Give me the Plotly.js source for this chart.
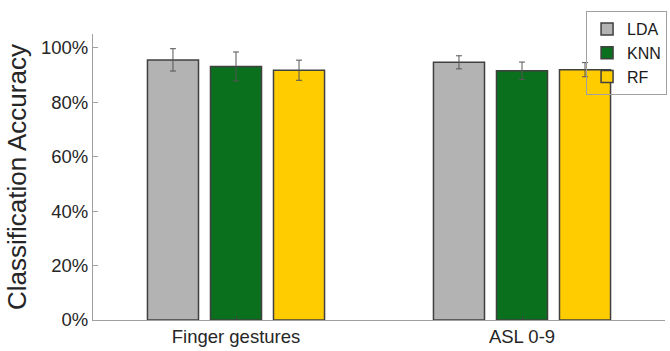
<!DOCTYPE html>
<html>
<head>
<meta charset="utf-8">
<script src="https://cdn.plot.ly/plotly-3.0.1.min.js"></script>
<style>html,body{margin:0;padding:0;background:#fff;}#chart{width:670px;height:351px;}</style>
</head>
<body>
<div id="chart"></div>
<script>
const categories = ["Finger gestures", "ASL 0-9"];
const seriesNames = ["LDA", "KNN", "RF"];
const ldaValues = [95.5, 94.6];
const knnValues = [93.1, 91.5];
const rfValues = [91.7, 91.9];
const ldaErrors = [4.1, 2.4];
const knnErrors = [5.3, 3.2];
const rfErrors = [3.7, 2.6];
const yTickValues = [0, 20, 40, 60, 80, 100];
const yTickLabels = ["0%", "20%", "40%", "60%", "80%", "100%"];

const colors = ["#b3b3b3", "#0b701d", "#ffcc00"];
const values = [ldaValues, knnValues, rfValues];
const errors = [ldaErrors, knnErrors, rfErrors];

const traces = seriesNames.map((name, i) => ({
  type: "bar",
  name: name,
  x: [1, 2],
  y: values[i],
  marker: {color: colors[i], line: {color: "#404040", width: 1.5}},
  error_y: {type: "data", array: errors[i], visible: true, color: "#555555", thickness: 1, width: 3}
}));

const layout = {
  width: 670, height: 351,
  margin: {l: 93, r: 5, t: 34, b: 31, autoexpand: false},
  paper_bgcolor: "#ffffff", plot_bgcolor: "#ffffff",
  barmode: "group", bargap: 0.339, bargroupgap: 0.19,
  font: {family: "Liberation Sans, Arial, sans-serif", color: "#262626"},
  xaxis: {
    range: [0.5, 2.5], tickvals: [1, 2], ticktext: categories,
    showline: true, linecolor: "#a0a0a0", linewidth: 1,
    ticks: "inside", ticklen: 4, tickcolor: "#404040",
    showgrid: false, zeroline: false, tickfont: {size: 18.5, color: "#262626"}
  },
  yaxis: {
    range: [0, 105], tickvals: yTickValues, ticktext: yTickLabels,
    showline: true, linecolor: "#a0a0a0", linewidth: 1,
    ticks: "inside", ticklen: 5, tickcolor: "#a0a0a0",
    showgrid: false, zeroline: false, tickfont: {size: 18.5, color: "#262626"},
    title: {text: "Classification Accuracy", font: {size: 26, color: "#262626"}, standoff: 6}
  },
  legend: {
    x: 0.862, y: 1.08, xanchor: "left", yanchor: "top",
    bgcolor: "rgba(255,255,255,0)", bordercolor: "#a0a0a0", borderwidth: 1,
    font: {size: 16, color: "#1a1a1a"}, tracegroupgap: 0, itemwidth: 30
  },
  showlegend: true
};

Plotly.newPlot("chart", traces, layout, {displayModeBar: false, staticPlot: true});
</script>
</body>
</html>
